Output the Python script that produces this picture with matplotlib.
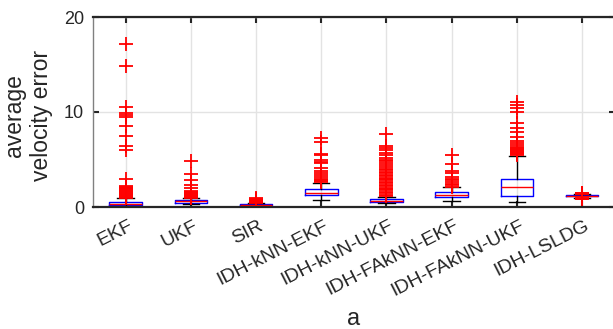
import matplotlib
matplotlib.use('Agg')
import matplotlib.pyplot as plt
import matplotlib.transforms as mtransforms

plt.rcParams['font.family'] = ['Liberation Sans', 'DejaVu Sans']

names = ['EKF', 'UKF', 'SIR', 'IDH-kNN-EKF', 'IDH-kNN-UKF',
         'IDH-FAkNN-EKF', 'IDH-FAkNN-UKF', 'IDH-LSLDG']

# box statistics
q1 = [0.22, 0.45, 0.18, 1.26, 0.48, 1.10, 1.20, 1.12]
med = [0.33, 0.58, 0.25, 1.50, 0.60, 1.26, 2.07, 1.18]
q3 = [0.50, 0.72, 0.33, 1.86, 0.80, 1.55, 2.90, 1.25]
whislo = [0.02, 0.35, 0.05, 0.74, 0.38, 0.66, 0.50, 0.98]
whishi = [0.90, 0.95, 0.40, 2.56, 1.10, 2.07, 5.40, 1.38]

# outliers ('+' markers)
out_ekf = [0.95, 1.05, 1.15, 1.25, 1.35, 1.45, 1.55, 1.65, 1.75, 1.85,
           1.95, 2.05, 2.15, 2.25, 2.9, 6.0, 6.4, 7.5, 8.5, 9.5, 9.7,
           9.9, 10.5, 14.8, 17.2]
out_ukf = [1.0, 1.1, 1.2, 1.3, 1.4, 1.5, 1.6, 1.7, 2.0, 2.3, 2.8, 3.5, 4.8]
out_sir = [0.42, 0.48, 0.54, 0.6, 0.66, 0.72, 0.78, 0.85, 0.92]
out_knn_ekf = [2.65, 2.75, 2.85, 3.0, 3.2, 3.4, 3.6, 3.8, 4.1, 4.6,
               4.7, 5.0, 5.5, 5.6, 6.8, 7.3]
out_knn_ukf = [1.15, 1.3, 1.45, 1.6, 1.75, 1.9, 2.05, 2.2, 2.35, 2.5,
               2.65, 2.8, 2.95, 3.1, 3.25, 3.4, 3.55, 3.7, 3.85, 4.0,
               4.2, 4.4, 4.6, 4.8, 5.0, 5.2, 5.45, 5.7, 5.95, 6.2, 6.45,
               7.7]
out_faknn_ekf = [2.15, 2.3, 2.45, 2.6, 2.8, 3.0, 3.2, 3.55, 3.8, 4.5, 5.5]
out_faknn_ukf = [5.5, 5.6, 5.7, 5.8, 5.9, 6.0, 6.1, 6.2, 6.35, 6.5, 6.7,
                 6.9, 7.35, 7.9, 8.35, 8.8, 9.97, 10.4, 10.7, 11.1]
out_lsldg = [0.80, 0.88, 0.95, 1.40, 1.45, 1.50]

outliers = [out_ekf, out_ukf, out_sir, out_knn_ekf, out_knn_ukf,
            out_faknn_ekf, out_faknn_ukf, out_lsldg]

stats = []
for i in range(len(names)):
    stats.append(dict(label=names[i], q1=q1[i], med=med[i], q3=q3[i],
                      whislo=whislo[i], whishi=whishi[i], fliers=outliers[i]))

fig = plt.figure(figsize=(6.13, 3.29), dpi=100)
ax = fig.add_axes([93 / 613, 122 / 329, 521.6 / 613, 190 / 329])

ax.bxp(stats, widths=0.5, capwidths=0.25,
       boxprops=dict(color='blue', linewidth=1),
       medianprops=dict(color='red', linewidth=1),
       whiskerprops=dict(color='black', linewidth=1),
       capprops=dict(color='black', linewidth=1),
       flierprops=dict(marker='+', markeredgecolor='red', markersize=9.5,
                       markeredgewidth=1.3, linestyle='none'))

ax.set_xlim(0.5, 8.5)
ax.set_ylim(0, 20)
ax.set_yticks([0, 10, 20])
ax.set_axisbelow(True)
ax.grid(True, color='#e3e3e3', linewidth=1)

for s in ['top', 'bottom']:
    ax.spines[s].set_color('#262626')
    ax.spines[s].set_linewidth(1.6)
ax.spines['left'].set_color('#808080')
ax.spines['left'].set_linewidth(1)
ax.spines['right'].set_color('#262626')

ax.tick_params(direction='in', length=4.5, width=1.5, color='#262626',
               top=True, right=True, labelsize=13, labelcolor='#262626')
ax.tick_params(axis='y', pad=6.5)
ax.tick_params(axis='x', pad=7.5, labelsize=14)
shift = mtransforms.ScaledTranslation(2.5 / 100, 0, fig.dpi_scale_trans)
for lab in ax.get_xticklabels():
    lab.set_rotation(27)
    lab.set_ha('right')
    lab.set_va('top')
    lab.set_rotation_mode('anchor')
    lab.set_transform(lab.get_transform() + shift)

ax.set_ylabel('average\nvelocity error', fontsize=16.5, color='#262626',
              linespacing=1.25, ha='center', va='center')
ax.yaxis.set_label_coords(-0.1246, 0.48)
ax.set_xlabel('a', fontsize=17, color='#262626', va='baseline')
ax.xaxis.set_label_coords(0.5, (207 - 325) / 190)

fig.savefig('out.png', dpi=100)
